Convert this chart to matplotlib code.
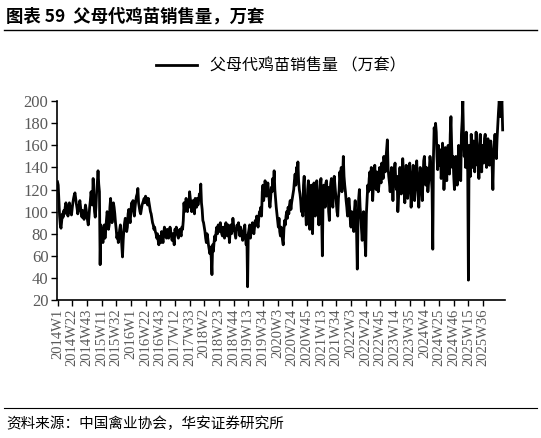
import matplotlib
matplotlib.use("Agg")
import matplotlib.pyplot as plt

plt.rcParams['font.family'] = ['Noto Sans CJK SC', 'DejaVu Sans']

# weekly sales, 2014W1 onward (10k sets)
sales = [
    127,124,110,96,88,85,92,98,95,101,98,104,108,105,100,96,103,108,104,99,
    97,103,108,112,115,117,112,107,103,98,101,106,110,104,99,95,101,97,93,100,
    106,102,97,92,88,95,104,110,118,112,106,130,112,100,95,104,118,126,137,125,
    118,52,88,84,78,72,80,88,76,84,92,100,95,84,88,104,112,98,90,96,
    108,104,98,90,84,76,80,72,78,84,88,80,70,59,74,84,90,94,88,82,
    86,98,102,94,90,100,108,104,110,100,96,104,110,114,116,121,108,104,100,98,
    102,106,108,110,112,108,114,112,110,106,112,108,104,100,98,94,90,88,84,86,
    82,80,76,80,74,70,76,78,72,82,76,72,80,86,82,78,76,84,80,76,
    80,86,82,78,74,80,76,70,84,82,86,80,78,76,82,84,80,78,86,84,
    92,108,100,104,112,106,100,110,104,118,112,108,100,104,110,104,98,112,108,104,
    112,106,110,116,112,125,108,102,92,90,86,82,76,72,80,76,70,66,62,68,
    58,43,70,64,72,78,74,82,86,80,88,84,82,90,84,80,78,86,82,76,
    84,90,82,78,88,86,72,82,88,80,84,94,88,84,80,76,82,88,84,90,
    84,78,86,82,78,74,80,84,88,76,70,78,32,80,84,88,76,82,86,90,
    84,80,86,92,88,96,90,86,94,100,98,104,96,118,124,110,116,128,122,114,
    120,126,118,110,104,112,122,118,130,124,137,120,112,104,98,92,86,94,82,78,
    86,80,74,70,84,92,88,96,100,94,104,98,106,110,102,108,112,116,120,128,
    134,124,140,130,145,128,120,116,110,100,106,96,124,132,110,102,88,94,120,128,
    102,84,110,124,92,80,118,126,104,96,112,128,116,100,88,108,124,130,96,60,
    110,124,118,104,126,128,110,122,100,92,118,126,130,112,104,120,132,124,116,108,
    100,96,112,120,136,128,140,118,130,150,132,124,118,110,104,96,100,112,104,92,
    86,100,94,88,82,102,110,96,80,48,90,112,120,104,96,84,74,90,100,86,
    72,60,98,112,124,118,130,136,120,140,128,110,124,132,142,128,120,136,130,118,
    124,140,132,126,144,138,130,150,142,136,148,156,165,140,132,126,118,130,140,124,
    110,126,138,144,128,120,132,100,112,126,140,124,116,130,148,136,120,108,128,142,
    130,112,122,136,144,126,104,118,132,142,128,110,120,134,146,130,118,104,126,140,
    134,120,110,128,146,150,136,124,140,132,118,126,138,150,144,130,120,66,150,176,
    168,180,172,150,138,160,152,142,156,130,140,162,148,120,136,158,144,128,150,160,
    144,134,170,186,160,140,150,132,120,146,150,138,124,140,160,148,136,128,170,182,
    200,168,150,160,140,172,154,136,38,160,148,132,170,152,140,164,150,136,158,172,
    160,142,150,130,162,170,148,136,160,152,144,166,170,156,140,160,166,150,142,158,
    164,152,140,120,150,162,170,160,148,166,178,190,200,196,186,198,200,174,
]

tick_labels = [
    "2014W1", "2014W22", "2014W43", "2015W11", "2015W32", "2016W1",
    "2016W22", "2016W43", "2017W12", "2017W33", "2018W2", "2018W23",
    "2018W44", "2019W13", "2019W34", "2020W3", "2020W24", "2020W45",
    "2021W13", "2021W34", "2022W3", "2022W24", "2022W45", "2023W14",
    "2023W35", "2024W4", "2024W25", "2024W46", "2025W15", "2025W36",
]
yticks = [20, 40, 60, 80, 100, 120, 140, 160, 180, 200]

fig = plt.figure(figsize=(5.41, 4.38), dpi=100)
ax = fig.add_axes([0.105, 0.315, 0.828, 0.454])

ax.plot(range(len(sales)), sales, color="black", lw=2.0, label="父母代鸡苗销售量 （万套）")
ax.set_xlim(-1, len(sales) + 2)
ax.set_ylim(20, 200)
ax.set_yticks(yticks)
ax.set_yticklabels([str(v) for v in yticks], fontsize=12, color="#595959",
                   family="Liberation Serif")
ax.set_xticks(range(0, 21 * len(tick_labels), 21))
ax.set_xticklabels(tick_labels, rotation=90, fontsize=10.5, color="#595959",
                   family="Liberation Serif")
ax.tick_params(axis="both", length=4, width=1, direction="out", pad=2)
for s in ("top", "right"):
    ax.spines[s].set_visible(False)
ax.spines["left"].set_linewidth(1.2)
ax.spines["bottom"].set_linewidth(1.2)

ax.legend(loc="lower center", bbox_to_anchor=(0.5, 1.06), frameon=False,
          handlelength=2.6, prop={"size": 11.5})

fig.text(0.012, 0.962, "图表 59  父母代鸡苗销售量，万套", fontsize=12.5,
         fontweight="bold", ha="left", va="center")
fig.add_artist(plt.Line2D([0.008, 0.992], [0.931, 0.931], color="black", lw=1))
fig.add_artist(plt.Line2D([0.008, 0.992], [0.068, 0.068], color="black", lw=0.8))
fig.text(0.012, 0.032, "资料来源：中国禽业协会，华安证券研究所", fontsize=10.5,
         ha="left", va="center")

fig.savefig("out.png", dpi=100)
